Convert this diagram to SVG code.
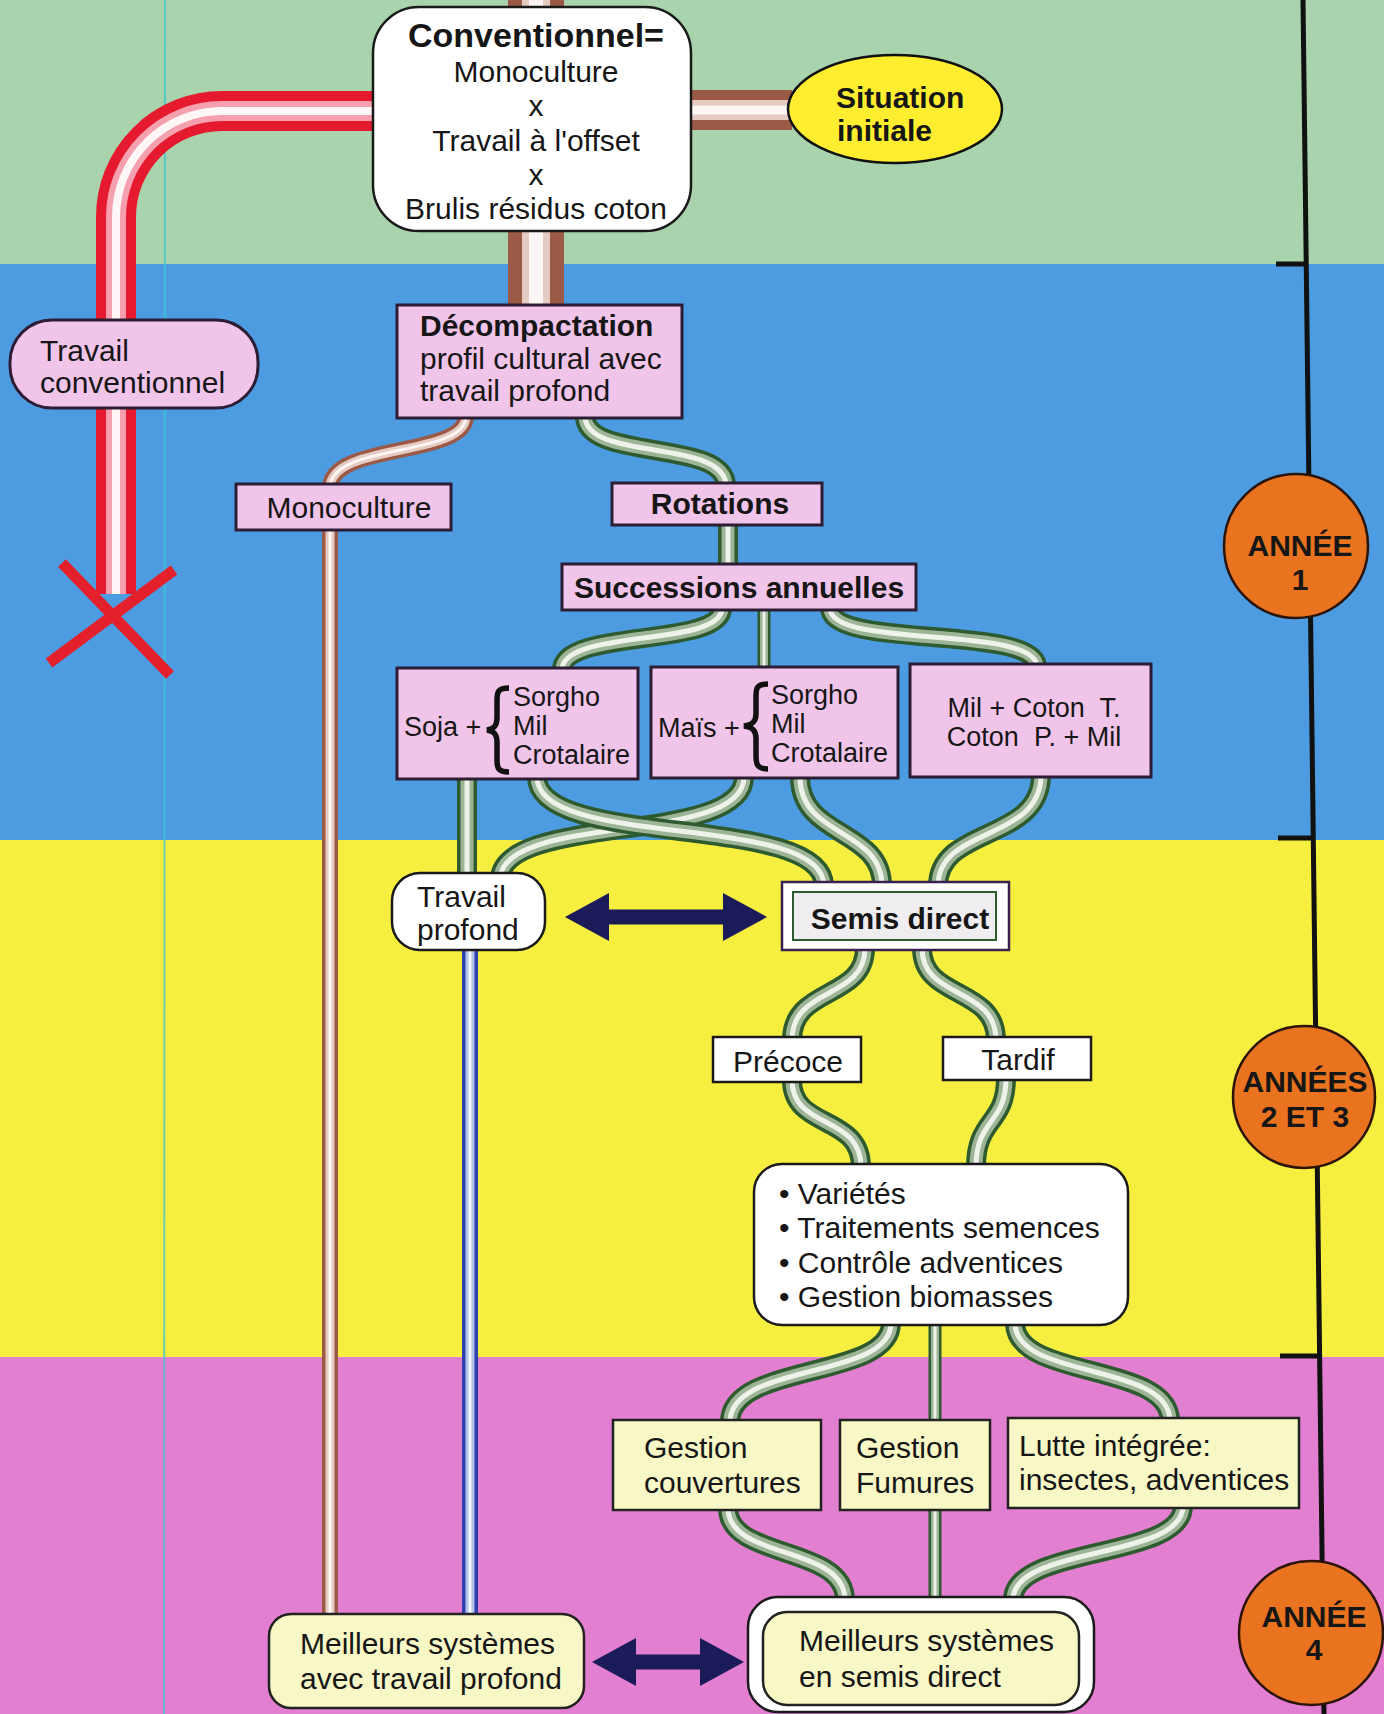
<svg xmlns="http://www.w3.org/2000/svg" xmlns:xlink="http://www.w3.org/1999/xlink" width="1384" height="1714" viewBox="0 0 1384 1714">
  <style>
    text { font-family: "Liberation Sans", Arial, sans-serif; font-size: 30px; fill: #161616; }
    .b { font-weight: bold; }
    .s27 { font-size: 27px; }
    .mid { text-anchor: middle; }
    .pinkbox { fill: #f1c4ea; stroke: #2c1c34; stroke-width: 3; }
    .whitebox { fill: #ffffff; stroke: #1a1a1a; stroke-width: 2.5; }
    .creambox { fill: #f8f7c6; stroke: #222222; stroke-width: 2.5; }
    .year { fill: #e9731e; stroke: #2a140a; stroke-width: 2.5; }
    .brace { fill: none; stroke: #111111; stroke-width: 5.5; }
    .pipe use { fill: none; }
    .green .L1 { stroke: #2d5b2f; stroke-width: 20; }
    .green .L2 { stroke: #9db596; stroke-width: 13; }
    .green .L3 { stroke: #eef2ea; stroke-width: 5; }
    .green.thin .L1 { stroke-width: 13; }
    .green.thin .L2 { stroke-width: 8; }
    .green.thin .L3 { stroke-width: 3; }
    .tan .L1 { stroke: #9a5a46; stroke-width: 56; }
    .tan .L2 { stroke: #e6cbc2; stroke-width: 28; }
    .tan .L3 { stroke: #fdf6f4; stroke-width: 14; }
    .tan.mid .L1 { stroke-width: 40; }
    .tan.mid .L2 { stroke-width: 20; }
    .tan.mid .L3 { stroke-width: 9; }
    .tan.thin .L1 { stroke-width: 16; }
    .tan.thin .L2 { stroke-width: 9; }
    .tan.thin .L3 { stroke-width: 3; }
    .red .L1 { stroke: #e51a2e; stroke-width: 40; }
    .red .L2 { stroke: #f5a0ae; stroke-width: 20; }
    .red .L3 { stroke: #fff6f8; stroke-width: 8; }
    .blue .L1 { stroke: #2f3fae; stroke-width: 16; }
    .blue .L2 { stroke: #b4c2ea; stroke-width: 9; }
    .blue .L3 { stroke: #f4f6ff; stroke-width: 3; }
    .dbl { stroke: #1c1b5a; stroke-width: 15; marker-start: url(#head); marker-end: url(#head); }
  </style>
  <defs>
    <marker id="head" markerUnits="userSpaceOnUse" markerWidth="44" markerHeight="48" refX="2" refY="24" orient="auto-start-reverse">
      <path d="M0,0 L44,24 L0,48 Z" fill="#1c1b5a"/>
    </marker>
    <!-- connector geometry, drawn in layers to give a tube look -->
    <path id="p-top" d="M536,0 V310"/>
    <path id="p-init" d="M688,110 H792"/>
    <path id="p-conv" d="M376,111 H222 A106,106 0 0 0 116,217 V594"/>
    <path id="p-mono" d="M466,416 C466,458 330,442 330,488 V1618"/>
    <path id="p-dec-rot" d="M585,416 C585,462 726,438 726,486"/>
    <path id="p-rot-suc" d="M728,523 V567"/>
    <path id="p-suc-a" d="M722,608 C722,648 562,628 562,670"/>
    <path id="p-suc-b" d="M764,608 V670"/>
    <path id="p-suc-c" d="M830,608 C830,650 1037,624 1037,667"/>
    <path id="p-a-tp" d="M467,777 V880"/>
    <path id="p-b-tp" d="M744,777 C744,846 500,812 500,880"/>
    <path id="p-a-sd" d="M537,777 C537,850 824,812 824,886"/>
    <path id="p-b-sd" d="M800,777 C800,838 882,828 882,886"/>
    <path id="p-c-sd" d="M1041,775 C1041,842 938,826 938,886"/>
    <path id="p-tp-mtp" d="M470,948 V1618"/>
    <path id="p-sd-pre" d="M865,948 C865,1000 792,986 792,1040"/>
    <path id="p-sd-tar" d="M922,948 C922,1000 996,986 996,1040"/>
    <path id="p-pre-var" d="M792,1080 C792,1130 861,1114 861,1167"/>
    <path id="p-tar-var" d="M1006,1078 C1006,1125 976,1118 976,1167"/>
    <path id="p-var-gc" d="M891,1323 C891,1380 730,1362 730,1422"/>
    <path id="p-var-msd" d="M935,1323 V1600"/>
    <path id="p-var-lu" d="M1015,1323 C1015,1380 1170,1362 1170,1421"/>
    <path id="p-gc-msd" d="M728,1508 C728,1560 845,1545 845,1600"/>
    <path id="p-lu-msd" d="M1183,1506 C1183,1560 1013,1545 1013,1600"/>
  </defs>

  <!-- period bands -->
  <g id="bands">
    <rect x="0" y="0" width="1384" height="264" fill="#a9d3ad"/>
    <rect x="0" y="264" width="1384" height="576" fill="#4d9ce2"/>
    <rect x="0" y="840" width="1384" height="517" fill="#f7ef40"/>
    <rect x="0" y="1357" width="1384" height="357" fill="#e37fd0"/>
    <line x1="165" y1="0" x2="164" y2="1714" stroke="#3cc8d4" stroke-width="2" opacity="0.75"/>
  </g>

  <!-- time axis -->
  <g id="timeline" stroke="#111111" stroke-width="5">
    <line x1="1303" y1="0" x2="1324" y2="1714"/>
    <line x1="1276" y1="264" x2="1306" y2="264"/>
    <line x1="1278" y1="838" x2="1313" y2="838"/>
    <line x1="1280" y1="1356" x2="1320" y2="1356"/>
  </g>

  <g id="connectors">
    <g class="pipe tan"><use href="#p-top" class="L1"/><use href="#p-top" class="L2"/><use href="#p-top" class="L3"/></g>
    <g class="pipe tan mid"><use href="#p-init" class="L1"/><use href="#p-init" class="L2"/><use href="#p-init" class="L3"/></g>
    <g class="pipe red"><use href="#p-conv" class="L1"/><use href="#p-conv" class="L2"/><use href="#p-conv" class="L3"/></g>
    <g class="pipe tan thin"><use href="#p-mono" class="L1"/><use href="#p-mono" class="L2"/><use href="#p-mono" class="L3"/></g>
    <g class="pipe green"><use href="#p-dec-rot" class="L1"/><use href="#p-dec-rot" class="L2"/><use href="#p-dec-rot" class="L3"/></g>
    <g class="pipe green"><use href="#p-rot-suc" class="L1"/><use href="#p-rot-suc" class="L2"/><use href="#p-rot-suc" class="L3"/></g>
    <g class="pipe green"><use href="#p-suc-a" class="L1"/><use href="#p-suc-a" class="L2"/><use href="#p-suc-a" class="L3"/></g>
    <g class="pipe green thin"><use href="#p-suc-b" class="L1"/><use href="#p-suc-b" class="L2"/><use href="#p-suc-b" class="L3"/></g>
    <g class="pipe green"><use href="#p-suc-c" class="L1"/><use href="#p-suc-c" class="L2"/><use href="#p-suc-c" class="L3"/></g>
    <g class="pipe green"><use href="#p-a-tp" class="L1"/><use href="#p-a-tp" class="L2"/><use href="#p-a-tp" class="L3"/></g>
    <g class="pipe green"><use href="#p-b-tp" class="L1"/><use href="#p-b-tp" class="L2"/><use href="#p-b-tp" class="L3"/></g>
    <g class="pipe green"><use href="#p-a-sd" class="L1"/><use href="#p-a-sd" class="L2"/><use href="#p-a-sd" class="L3"/></g>
    <g class="pipe green"><use href="#p-b-sd" class="L1"/><use href="#p-b-sd" class="L2"/><use href="#p-b-sd" class="L3"/></g>
    <g class="pipe green"><use href="#p-c-sd" class="L1"/><use href="#p-c-sd" class="L2"/><use href="#p-c-sd" class="L3"/></g>
    <g class="pipe blue"><use href="#p-tp-mtp" class="L1"/><use href="#p-tp-mtp" class="L2"/><use href="#p-tp-mtp" class="L3"/></g>
    <g class="pipe green"><use href="#p-sd-pre" class="L1"/><use href="#p-sd-pre" class="L2"/><use href="#p-sd-pre" class="L3"/></g>
    <g class="pipe green"><use href="#p-sd-tar" class="L1"/><use href="#p-sd-tar" class="L2"/><use href="#p-sd-tar" class="L3"/></g>
    <g class="pipe green"><use href="#p-pre-var" class="L1"/><use href="#p-pre-var" class="L2"/><use href="#p-pre-var" class="L3"/></g>
    <g class="pipe green"><use href="#p-tar-var" class="L1"/><use href="#p-tar-var" class="L2"/><use href="#p-tar-var" class="L3"/></g>
    <g class="pipe green"><use href="#p-var-gc" class="L1"/><use href="#p-var-gc" class="L2"/><use href="#p-var-gc" class="L3"/></g>
    <g class="pipe green thin"><use href="#p-var-msd" class="L1"/><use href="#p-var-msd" class="L2"/><use href="#p-var-msd" class="L3"/></g>
    <g class="pipe green"><use href="#p-var-lu" class="L1"/><use href="#p-var-lu" class="L2"/><use href="#p-var-lu" class="L3"/></g>
    <g class="pipe green"><use href="#p-gc-msd" class="L1"/><use href="#p-gc-msd" class="L2"/><use href="#p-gc-msd" class="L3"/></g>
    <g class="pipe green"><use href="#p-lu-msd" class="L1"/><use href="#p-lu-msd" class="L2"/><use href="#p-lu-msd" class="L3"/></g>
    <!-- two-way comparisons -->
    <line class="dbl" x1="607" y1="917" x2="725" y2="917"/>
    <line class="dbl" x1="634" y1="1662" x2="702" y2="1662"/>
  </g>

  <!-- abandoned path -->
  <g id="stop-mark" stroke="#e3202c" stroke-width="11">
    <line x1="62" y1="563" x2="170" y2="675"/>
    <line x1="174" y1="570" x2="49" y2="663"/>
  </g>

  <g id="node-conventionnel">
    <rect x="373" y="7" width="318" height="224" rx="46" class="whitebox"/>
    <text x="536" y="47" class="b mid" style="font-size:34px">Conventionnel=</text>
    <text x="536" y="82" class="mid">Monoculture</text>
    <text x="536" y="116" class="mid">x</text>
    <text x="536" y="151" class="mid">Travail à l'offset</text>
    <text x="536" y="185" class="mid">x</text>
    <text x="536" y="219" class="mid">Brulis résidus coton</text>
  </g>

  <g id="node-situation">
    <ellipse cx="895" cy="109" rx="107" ry="54" fill="#ffee30" stroke="#111111" stroke-width="2.5"/>
    <text x="836" y="108" class="b">Situation</text>
    <text x="837" y="141" class="b">initiale</text>
  </g>

  <g id="node-travail-conventionnel">
    <rect x="10" y="320" width="248" height="88" rx="42" class="pinkbox"/>
    <text x="40" y="361">Travail</text>
    <text x="40" y="393">conventionnel</text>
  </g>

  <g id="node-decompactation">
    <rect x="397" y="305" width="285" height="113" class="pinkbox"/>
    <text x="420" y="336" class="b">Décompactation</text>
    <text x="420" y="369">profil cultural avec</text>
    <text x="420" y="401">travail profond</text>
  </g>

  <g id="node-monoculture">
    <rect x="236" y="484" width="215" height="46" class="pinkbox"/>
    <text x="349" y="518" class="mid">Monoculture</text>
  </g>

  <g id="node-rotations">
    <rect x="612" y="483" width="210" height="42" class="pinkbox"/>
    <text x="720" y="514" class="b mid">Rotations</text>
  </g>

  <g id="node-successions">
    <rect x="562" y="564" width="354" height="46" class="pinkbox"/>
    <text x="739" y="598" class="b mid">Successions annuelles</text>
  </g>

  <g id="node-soja">
    <rect x="397" y="668" width="241" height="111" class="pinkbox"/>
    <text x="404" y="736" class="s27">Soja +</text>
    <path class="brace" d="M509,688 C498,688 497,692 497,700 L497,718 C497,726 494,729 487,730 C494,731 497,734 497,742 L497,760 C497,768 498,772 509,772"/>
    <text x="513" y="706" class="s27">Sorgho</text>
    <text x="513" y="735" class="s27">Mil</text>
    <text x="513" y="764" class="s27">Crotalaire</text>
  </g>

  <g id="node-mais">
    <rect x="651" y="667" width="247" height="111" class="pinkbox"/>
    <text x="658" y="737" class="s27">Maïs +</text>
    <path class="brace" d="M768,684 C757,684 756,688 756,696 L756,714 C756,722 752,725 744,726 C752,727 756,730 756,738 L756,756 C756,764 757,769 768,769"/>
    <text x="771" y="704" class="s27">Sorgho</text>
    <text x="771" y="733" class="s27">Mil</text>
    <text x="771" y="762" class="s27">Crotalaire</text>
  </g>

  <g id="node-mil-coton">
    <rect x="910" y="664" width="241" height="113" class="pinkbox"/>
    <text x="1034" y="717" class="s27 mid" xml:space="preserve">Mil + Coton  T.</text>
    <text x="1034" y="746" class="s27 mid" xml:space="preserve">Coton  P. + Mil</text>
  </g>

  <g id="node-travail-profond">
    <rect x="392" y="873" width="153" height="77" rx="28" class="whitebox"/>
    <text x="417" y="907">Travail</text>
    <text x="417" y="940">profond</text>
  </g>

  <g id="node-semis-direct">
    <rect x="782" y="882" width="227" height="68" fill="#ffffff" stroke="#3a2050" stroke-width="2.5"/>
    <rect x="793" y="892" width="203" height="48" fill="#f0edf0" stroke="#2e5a30" stroke-width="2"/>
    <text x="900" y="929" class="b mid">Semis direct</text>
  </g>

  <g id="node-precoce">
    <rect x="713" y="1037" width="148" height="45" class="whitebox"/>
    <text x="788" y="1072" class="mid">Précoce</text>
  </g>

  <g id="node-tardif">
    <rect x="943" y="1037" width="148" height="43" class="whitebox"/>
    <text x="1018" y="1070" class="mid">Tardif</text>
  </g>

  <g id="node-leviers">
    <rect x="754" y="1164" width="374" height="161" rx="28" class="whitebox"/>
    <text x="779" y="1204">• Variétés</text>
    <text x="779" y="1238">• Traitements semences</text>
    <text x="779" y="1273">• Contrôle adventices</text>
    <text x="779" y="1307">• Gestion biomasses</text>
  </g>

  <g id="node-gestion-couvertures">
    <rect x="613" y="1420" width="208" height="90" class="creambox"/>
    <text x="644" y="1458">Gestion</text>
    <text x="644" y="1493">couvertures</text>
  </g>

  <g id="node-gestion-fumures">
    <rect x="840" y="1420" width="150" height="90" class="creambox"/>
    <text x="856" y="1458">Gestion</text>
    <text x="856" y="1493">Fumures</text>
  </g>

  <g id="node-lutte">
    <rect x="1008" y="1418" width="291" height="90" class="creambox"/>
    <text x="1019" y="1456">Lutte intégrée:</text>
    <text x="1019" y="1490">insectes, adventices</text>
  </g>

  <g id="node-meilleurs-tp">
    <rect x="269" y="1614" width="315" height="94" rx="22" class="creambox"/>
    <text x="300" y="1654">Meilleurs systèmes</text>
    <text x="300" y="1689">avec travail profond</text>
  </g>

  <g id="node-meilleurs-sd">
    <rect x="748" y="1597" width="346" height="115" rx="30" class="whitebox"/>
    <rect x="763" y="1612" width="316" height="93" rx="24" class="creambox"/>
    <text x="799" y="1651">Meilleurs systèmes</text>
    <text x="799" y="1687">en semis direct</text>
  </g>

  <g id="node-annee-1">
    <circle cx="1296" cy="546" r="72" class="year"/>
    <text x="1300" y="556" class="b mid">ANNÉE</text>
    <text x="1300" y="590" class="b mid">1</text>
  </g>

  <g id="node-annees-2-3">
    <circle cx="1304" cy="1097" r="71" class="year"/>
    <text x="1305" y="1092" class="b mid">ANNÉES</text>
    <text x="1305" y="1127" class="b mid">2 ET 3</text>
  </g>

  <g id="node-annee-4">
    <circle cx="1311" cy="1633" r="72" class="year"/>
    <text x="1314" y="1627" class="b mid">ANNÉE</text>
    <text x="1314" y="1660" class="b mid">4</text>
  </g>
</svg>
